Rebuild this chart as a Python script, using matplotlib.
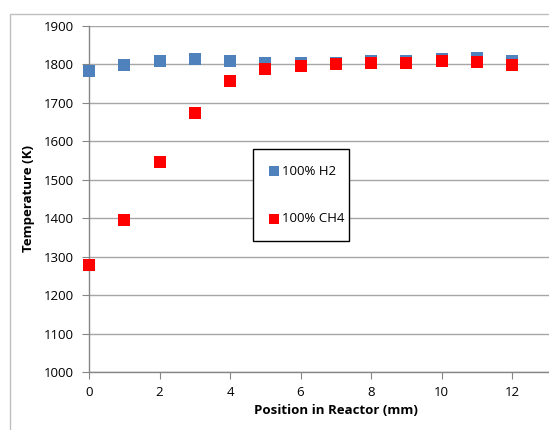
import matplotlib
matplotlib.use("Agg")
import matplotlib.pyplot as plt
from matplotlib.patches import Rectangle

positions = [0, 1, 2, 3, 4, 5, 6, 7, 8, 9, 10, 11, 12]
h2_temp = [1783, 1798, 1810, 1813, 1808, 1805, 1805, 1805, 1808, 1810, 1813, 1816, 1810]
ch4_temp = [1279, 1395, 1546, 1674, 1758, 1787, 1795, 1800, 1803, 1805, 1808, 1807, 1798]
series_labels = ["100% H2", "100% CH4"]
x_ticks = [0, 2, 4, 6, 8, 10, 12]
y_ticks = [1000, 1100, 1200, 1300, 1400, 1500, 1600, 1700, 1800, 1900]

plt.rcParams['font.family'] = ['Open Sans', 'DejaVu Sans']

W, H = 549, 430
fig = plt.figure(figsize=(W / 100, H / 100), dpi=100)

# outer chart frame
fig.patches.append(Rectangle((10 / W, -0.1), 1.2, (H - 14) / H + 0.1,
                             transform=fig.transFigure, fill=False,
                             edgecolor='#BFBFBF', linewidth=1.0))

x0 = 89 / W
x1 = (89 + 14 * 35.25) / W
y0 = (H - 372) / H
y1 = (H - 26) / H
ax = fig.add_axes([x0, y0, x1 - x0, y1 - y0])
ax.set_xlim(0, 14)
ax.set_ylim(1000, 1900)

ax.grid(axis='y', color='#A6A6A6', linewidth=1.0)
ax.set_axisbelow(True)
for s in ['top', 'right']:
    ax.spines[s].set_visible(False)
for s in ['left', 'bottom']:
    ax.spines[s].set_color('#868686')
    ax.spines[s].set_linewidth(1.0)

ax.scatter(positions, h2_temp, marker='s', s=64, color='#4F81BD',
           linewidths=0, label=series_labels[0], zorder=3, clip_on=False)
ax.scatter(positions, ch4_temp, marker='s', s=64, color='#FF0000',
           linewidths=0, label=series_labels[1], zorder=4, clip_on=False)

ax.set_xticks(x_ticks)
ax.set_yticks(y_ticks)
ax.tick_params(axis='both', direction='out', length=5, color='#868686',
               labelsize=9.5, labelcolor='#000000')
ax.tick_params(axis='y', pad=6)
ax.tick_params(axis='x', pad=5)

ax.set_xlabel('Position in Reactor (mm)', fontsize=9.5, fontweight='bold', labelpad=4)
ax.set_ylabel('Temperature (K)', fontsize=9.5, fontweight='bold', labelpad=6)

lx0, lx1 = 252.7 / W, 349.3 / W
ly0, ly1 = (H - 239) / H, (H - 149) / H
leg = ax.legend(loc='upper left', bbox_to_anchor=(lx0, ly0, lx1 - lx0, ly1 - ly0),
                bbox_transform=fig.transFigure, mode='expand', frameon=True,
                fancybox=False, edgecolor='black', framealpha=1,
                fontsize=9.5, labelspacing=2.6, borderpad=1.2,
                handlelength=0.8, handletextpad=0.2, borderaxespad=0,
                scatterpoints=1, markerscale=0.95)
leg.get_frame().set_linewidth(1.0)

fig.savefig('out.png', dpi=100)
